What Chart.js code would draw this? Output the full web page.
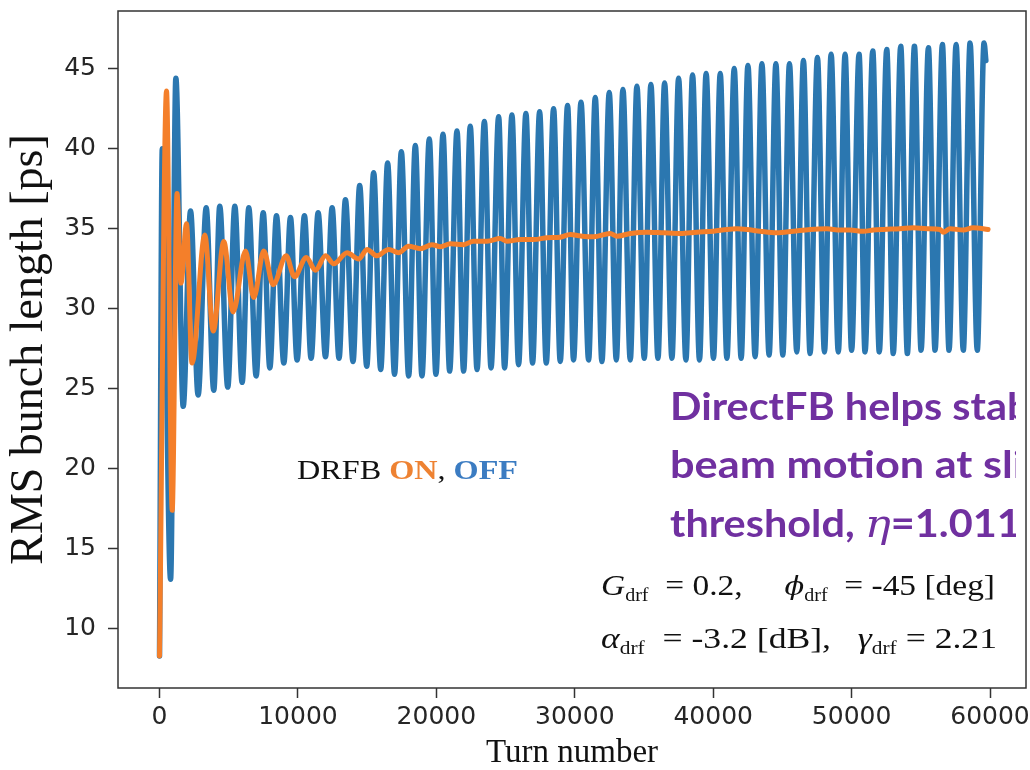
<!DOCTYPE html>
<html>
<head>
<meta charset="utf-8">
<script src="https://cdn.jsdelivr.net/npm/chart.js@4.4.1/dist/chart.umd.min.js"></script>
<style>
  html, body { margin: 0; padding: 0; background: #ffffff; }
  #wrap { width: 1030px; height: 770px; position: relative; }
  canvas { display: block; }
</style>
</head>
<body>
<div id="wrap"><canvas id="c" width="1030" height="770"></canvas></div>
<script>
// RMS bunch length vs turn number, DRFB OFF (extrema of the oscillation)
const offTurn = [0, 200, 800, 1180, 1710, 2240, 2790, 3370, 3920, 4350, 4930, 5440, 5970, 6450, 6980, 7490, 7970, 8450, 8980, 9460,
  9940, 10470, 10950, 11460, 11990, 12470, 12970, 13430, 13980, 14460, 14970, 15470, 15980, 16480, 16980, 17470, 18000, 18480, 18960, 19490,
  19970, 20480, 20960, 21490, 21970, 22450, 22940, 23470, 23950, 24500, 24930, 25460, 25940, 26470, 26950, 27460, 27940, 28470, 28950, 29480,
  29910, 30450, 31000, 31480, 31960, 32490, 33000, 33480, 34010, 34490, 35020, 35500, 36010, 36490, 37020, 37500, 38030, 38510, 39010, 39490,
  40020, 40510, 40990, 41520, 42020, 42510, 43030, 43520, 44040, 44530, 45030, 45510, 46040, 46520, 47000, 47530, 48040, 48520, 49040, 49530,
  50000, 50540, 50970, 51530, 52000, 52540, 53010, 53550, 54030, 54540, 55020, 55550, 56030, 56560, 57040, 57550, 58070, 58560, 59080, 59570,
  59700];
const offPs = [8.3, 40.0, 13.1, 44.4, 23.9, 36.1, 24.6, 36.3, 24.9, 36.4, 25.1, 36.4, 25.4, 36.3, 25.8, 36.0, 26.3, 35.8, 26.6, 35.7,
  26.8, 35.8, 26.9, 36.0, 27.0, 36.3, 26.9, 36.8, 26.7, 37.7, 26.4, 38.5, 26.2, 39.1, 25.9, 39.8, 25.8, 40.2, 25.8, 40.6,
  25.9, 40.9, 26.1, 41.1, 26.1, 41.4, 26.2, 41.7, 26.3, 42.0, 26.3, 42.1, 26.5, 42.2, 26.6, 42.3, 26.6, 42.5, 26.7, 42.7,
  26.8, 42.9, 26.8, 43.2, 26.7, 43.5, 26.8, 43.7, 26.8, 43.9, 26.9, 44.0, 26.9, 44.1, 26.9, 44.4, 26.8, 44.6, 26.8, 44.7,
  26.9, 44.7, 26.9, 45.0, 26.9, 45.2, 27.0, 45.3, 27.1, 45.3, 27.1, 45.3, 27.3, 45.5, 27.2, 45.7, 27.3, 45.9, 27.3, 45.9,
  27.4, 45.9, 27.3, 46.1, 27.3, 46.2, 27.2, 46.4, 27.2, 46.4, 27.4, 46.3, 27.4, 46.5, 27.4, 46.5, 27.4, 46.6, 27.4, 46.6,
  45.5];

// DRFB ON
const onTurn = [0, 505, 915, 1265, 1550, 1950, 2350, 3270, 3880, 4640, 5320, 6210, 6810, 7530, 8210, 9150, 9750, 10610, 11260, 11990,
  12590, 13550, 14390, 14990, 15710, 16550, 17270, 17990, 18840, 19680, 20290, 21010, 21970, 22690, 23660, 24620, 25100, 26060, 27030, 27990,
  28950, 29670, 30400, 31360, 32560, 33050, 34010, 35210, 36410, 37620, 38820, 40020, 40990, 41710, 42430, 43390, 44600, 45800, 47000, 48210,
  49170, 49890, 50850, 51570, 52300, 53500, 54460, 55430, 56390, 56630, 57110, 58070, 58790, 59860];
const onPs = [8.3, 43.6, 17.4, 37.2, 31.6, 35.3, 26.6, 34.6, 28.6, 34.2, 29.8, 33.6, 30.7, 33.6, 31.5, 33.3, 32.0, 33.2, 32.4, 33.3,
  32.8, 33.5, 33.1, 33.7, 33.3, 33.7, 33.5, 33.9, 33.75, 34.0, 33.87, 34.06, 34.0, 34.22, 34.22, 34.39, 34.22, 34.32, 34.32, 34.43,
  34.47, 34.64, 34.55, 34.49, 34.7, 34.53, 34.7, 34.78, 34.74, 34.7, 34.78, 34.84, 34.95, 34.99, 34.95, 34.84, 34.74, 34.84, 34.95, 34.99,
  34.91, 34.91, 34.84, 34.91, 34.95, 35.0, 35.06, 35.0, 34.95, 34.78, 35.0, 34.91, 35.06, 34.95];

const xTickValues = [0, 10000, 20000, 30000, 40000, 50000, 60000];
const yTickValues = [10, 15, 20, 25, 30, 35, 40, 45];

const BLUE = '#2b77b0';
const ORANGE = '#f47f2a';
const AXIS = '#333333';
const SERIF = '"Liberation Serif", "Times New Roman", serif';

function toPoints(xs, ys) {
  return xs.map((x, i) => ({ x: x, y: ys[i] }));
}

// Rows of text runs, stretched horizontally so that a row spans a given width
function runsWidth(ctx, runs) {
  let w = 0;
  for (const r of runs) { ctx.font = r.font; w += ctx.measureText(r.text).width; }
  return w;
}
function drawRuns(ctx, x, y, runs, sx) {
  ctx.save();
  ctx.translate(x, y);
  ctx.scale(sx, 1);
  ctx.textBaseline = 'alphabetic';
  ctx.textAlign = 'left';
  let cx = 0;
  for (const r of runs) {
    ctx.font = r.font;
    ctx.fillStyle = r.color || '#111111';
    ctx.fillText(r.text, cx, r.dy || 0);
    cx += ctx.measureText(r.text).width;
  }
  ctx.restore();
}

const framePlugin = {
  id: 'frame',
  afterDraw(chart) {
    const { ctx, chartArea: a } = chart;
    ctx.save();
    ctx.strokeStyle = AXIS;
    ctx.lineWidth = 1.5;
    ctx.strokeRect(a.left, a.top, a.right - a.left, a.bottom - a.top);
    ctx.restore();
  }
};

const notesPlugin = {
  id: 'notes',
  afterDraw(chart) {
    const ctx = chart.ctx;

    // DRFB ON, OFF
    const reg = '28px ' + SERIF;
    const bold = 'bold 28px ' + SERIF;
    const drfb = [
      { text: 'DRFB ', font: reg, color: '#111111' },
      { text: 'ON', font: bold, color: '#ee8232' },
      { text: ', ', font: reg, color: '#111111' },
      { text: 'OFF', font: bold, color: '#3b7cc2' }
    ];
    drawRuns(ctx, 297, 479, drfb, 221 / runsWidth(ctx, drfb));

    // Purple remark, cut off at the right edge of its box
    const pf = 'bold 38px Lato, "Open Sans", sans-serif';
    const eta = 'italic 40px "DejaVu Serif", serif';
    const purple = '#7030a0';
    const sx1 = 337 / runsWidth(ctx, [{ text: 'DirectFB helps sta', font: pf }]);
    const sx2 = 332 / runsWidth(ctx, [{ text: 'beam motion at s', font: pf }]);
    ctx.save();
    ctx.beginPath();
    ctx.rect(600, 370, 416, 190);
    ctx.clip();
    drawRuns(ctx, 670, 420, [{ text: 'DirectFB helps stabilize', font: pf, color: purple }], sx1);
    drawRuns(ctx, 670, 478, [{ text: 'beam motion at slightly above', font: pf, color: purple }], sx2);
    drawRuns(ctx, 670, 537, [
      { text: 'threshold, ', font: pf, color: purple },
      { text: 'η', font: eta, color: purple },
      { text: '=1.011', font: pf, color: purple }
    ], sx1);
    ctx.restore();

    // Feedback parameters
    const it = 'italic 30px ' + SERIF;
    const rm = '30px ' + SERIF;
    const sb = '18px ' + SERIF;
    const line1 = [
      { text: 'G', font: it }, { text: 'drf', font: sb, dy: 6 },
      { text: '\u2002= 0.2,\u2003 ', font: rm },
      { text: '\u03D5', font: 'italic 26px "DejaVu Serif", serif' }, { text: 'drf', font: sb, dy: 6 },
      { text: '\u2002= -45 [deg]', font: rm }
    ];
    const line2 = [
      { text: 'α', font: it }, { text: 'drf', font: sb, dy: 6 },
      { text: '\u2002= -3.2 [dB],\u2002 ', font: rm },
      { text: 'γ', font: it }, { text: 'drf', font: sb, dy: 6 },
      { text: ' = 2.21', font: rm }
    ];
    drawRuns(ctx, 601, 595, line1, 394 / runsWidth(ctx, line1));
    drawRuns(ctx, 601, 648, line2, 396 / runsWidth(ctx, line2));
  }
};

new Chart(document.getElementById('c'), {
  type: 'line',
  data: {
    datasets: [
      {
        label: 'DRFB ON',
        data: toPoints(onTurn, onPs),
        borderColor: ORANGE,
        borderWidth: 5,
        order: 0
      },
      {
        label: 'DRFB OFF',
        data: toPoints(offTurn, offPs),
        borderColor: BLUE,
        borderWidth: 5.5,
        order: 1
      }
    ]
  },
  options: {
    responsive: false,
    devicePixelRatio: 1,
    animation: false,
    elements: {
      point: { radius: 0, hoverRadius: 0 },
      line: {
        cubicInterpolationMode: 'monotone',
        borderJoinStyle: 'round',
        borderCapStyle: 'round',
        fill: false
      }
    },
    layout: { padding: { top: 11, right: 4, left: 0, bottom: 0 } },
    plugins: {
      legend: { display: false },
      tooltip: { enabled: false },
      title: { display: false }
    },
    scales: {
      x: {
        type: 'linear',
        min: -3000,
        max: 62600,
        afterBuildTicks: (s) => { s.ticks = xTickValues.map(v => ({ value: v })); },
        afterFit: (s) => { s.height = 82; s.paddingLeft = 0; s.paddingRight = 0; },
        ticks: {
          autoSkip: false,
          maxRotation: 0,
          padding: 4,
          color: '#262626',
          font: { family: '"DejaVu Sans"', size: 25 },
          callback: (v) => String(v)
        },
        grid: { drawOnChartArea: false, drawTicks: true, tickLength: 10, tickWidth: 1.5, tickColor: AXIS },
        border: { display: false },
        title: {
          display: true,
          text: 'Turn number',
          color: '#111111',
          font: { family: SERIF, size: 33, lineHeight: 1 },
          padding: { top: 0, bottom: 0 }
        }
      },
      y: {
        type: 'linear',
        min: 6.3,
        max: 48.6,
        afterBuildTicks: (s) => { s.ticks = yTickValues.map(v => ({ value: v })); },
        afterFit: (s) => { s.width = 118; s.paddingTop = 0; s.paddingBottom = 0; },
        ticks: {
          padding: 12,
          color: '#262626',
          font: { family: '"DejaVu Sans"', size: 25 },
          callback: (v) => String(v)
        },
        grid: { drawOnChartArea: false, drawTicks: true, tickLength: 10, tickWidth: 1.5, tickColor: AXIS },
        border: { display: false },
        title: {
          display: true,
          text: 'RMS bunch length [ps]',
          color: '#111111',
          font: { family: SERIF, size: 46, lineHeight: 1 },
          padding: { top: 7, bottom: 0 }
        }
      }
    }
  },
  plugins: [framePlugin, notesPlugin]
});
</script>
</body>
</html>
